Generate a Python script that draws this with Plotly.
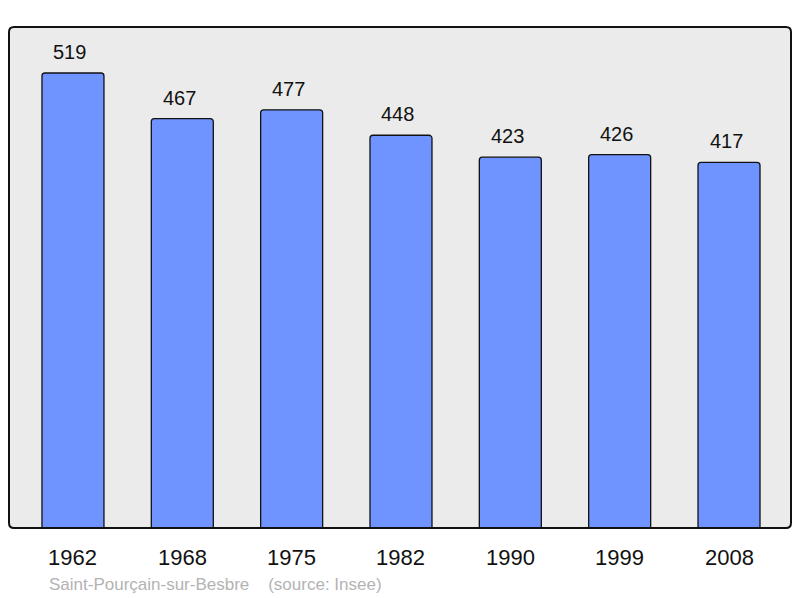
import plotly.graph_objects as go

years = ["1962", "1968", "1975", "1982", "1990", "1999", "2008"]
population = [519, 467, 477, 448, 423, 426, 417]
footer = "Saint-Pourçain-sur-Besbre    (source: Insee)"

FONT = "Liberation Sans, Arial, sans-serif"
xs = list(range(len(years)))

fig = go.Figure()
fig.add_trace(go.Bar(
    x=xs, y=population, width=0.567,
    marker=dict(color="#7094ff", line=dict(color="#111111", width=1.3), cornerradius=3),
    hoverinfo="skip",
))

for x, v, yr in zip(xs, population, years):
    fig.add_annotation(x=x, y=v, text=str(v), showarrow=False, yanchor="middle",
                       yshift=21, xshift=-3, font=dict(family=FONT, size=20, color="#111111"))
    fig.add_annotation(x=x, y=0, text=yr, showarrow=False, yanchor="middle",
                       yshift=-29, font=dict(family=FONT, size=22, color="#111111"))

fig.add_annotation(xref="paper", yref="paper", x=0, y=0, xanchor="left", yanchor="middle",
                   xshift=38, yshift=-56, text=footer, showarrow=False,
                   font=dict(family=FONT, size=17, color="#b3b3b3"))

# rounded border around plot area (paper coords)
W, H = 782.0, 501.0
rx, ry = 5 / W, 5 / H
path = (f"M {rx},0 L {1-rx},0 Q 1,0 1,{ry} L 1,{1-ry} Q 1,1 {1-rx},1 "
        f"L {rx},1 Q 0,1 0,{1-ry} L 0,{ry} Q 0,0 {rx},0 Z")
fig.add_shape(type="path", xref="paper", yref="paper", path=path,
              line=dict(color="#111111", width=2), layer="above")

# page body has an 8px margin, so the figure is sized/offset to compensate
fig.update_layout(
    width=792, height=590,
    margin=dict(l=1, r=9, t=19, b=70),
    paper_bgcolor="white", plot_bgcolor="#ebebeb",
    showlegend=False,
    xaxis=dict(range=[-0.585, 6.567], showticklabels=False, showgrid=False,
               zeroline=False, ticks=""),
    yaxis=dict(range=[0, 571.5], showticklabels=False, showgrid=False,
               zeroline=False, ticks=""),
)

fig.write_html("out.html")
